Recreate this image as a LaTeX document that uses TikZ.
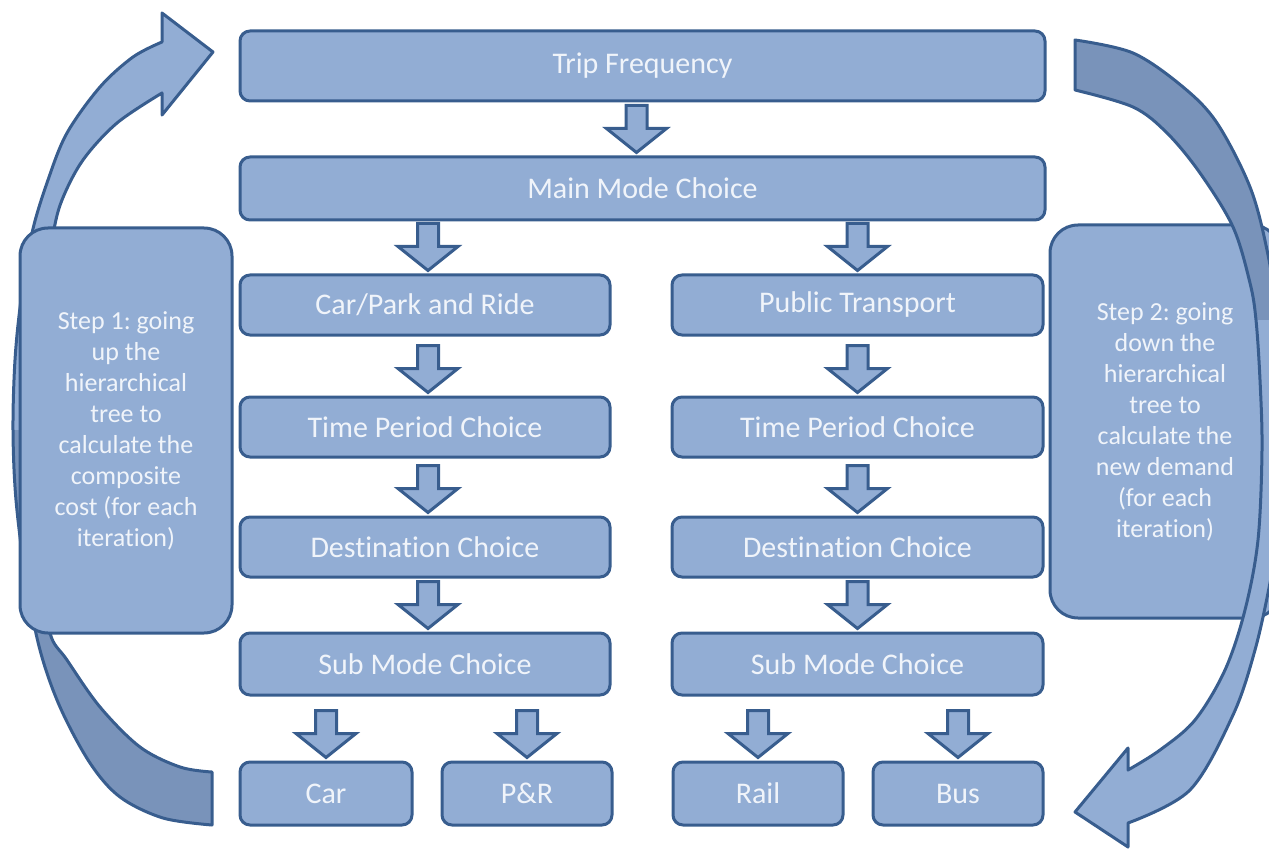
\documentclass[tikz,border=0pt]{standalone}
\usepackage{fontspec}
\setmainfont[Ligatures=NoCommon, Contextuals=NoAlternate]{Carlito}
\usetikzlibrary{calc}
\frenchspacing
\definecolor{boxfill}{RGB}{146,173,212}
\definecolor{bord}{RGB}{56,93,142}
\definecolor{darkpart}{RGB}{121,147,186}
\definecolor{txt}{RGB}{240,244,250}
\newcommand\larrowpath{%
  plot[smooth, tension=0.55] coordinates {(212,825) (163,818) (120,797) (90,763) (60,707) (40,650) (26,580) (16,500) (13,430) (15,360) (21,300) (32,233) (48,180) (67,133) (100,87) (133,57) (162,42)}
  -- (162,13) -- (213,52) -- (162,115)
  -- plot[smooth, tension=0.55] coordinates {(162,93) (117,123) (83,160) (62,200) (53,235) (46,290) (42,360) (40,430) (40,500) (43,570) (50,633) (67,660) (100,707) (140,747) (180,767) (212,772)}
  -- cycle}
\newcommand\rarrowpath{%
  plot[smooth, tension=0.55] coordinates {(1075,40) (1133,53) (1183,87) (1217,123) (1250,187) (1267,250) (1278,320) (1285,420) (1283,510) (1270,583) (1255,650) (1233,715) (1190,790) (1128,823)}
  -- (1128,847) -- (1075,812) -- (1128,748)
  -- plot[smooth, tension=0.55] coordinates {(1128,770) (1160,750) (1195,720) (1225,670) (1245,610) (1258,540) (1262,450) (1260,380) (1256,320) (1250,283) (1233,227) (1200,173) (1167,133) (1133,107) (1075,90)}
  -- cycle}
\newcommand\blk[3]{%
  \draw[barrow] let \p2=([xshift=#3pt]#2.north) in
    (\x2-10.5pt,\y2+50pt) -- (\x2+10.5pt,\y2+50pt) -- (\x2+10.5pt,\y2+27pt)
    -- (\x2+30pt,\y2+27pt) -- (\x2,\y2+3pt) -- (\x2-30pt,\y2+27pt)
    -- (\x2-10.5pt,\y2+27pt) -- cycle;}
\begin{document}
\begin{tikzpicture}[x=1pt,y=-1pt,
  box/.style={draw=bord, fill=boxfill, line width=3pt, rounded corners=10pt,
    text=txt, font=\fontsize{30}{36}\selectfont, inner sep=0pt},
  sidebox/.style={draw=bord, fill=boxfill, line width=3pt, rounded corners=28pt,
    text=txt, font=\fontsize{26}{31}\selectfont, align=center, inner sep=0pt},
  barrow/.style={draw=bord, fill=boxfill, line width=3pt, line join=miter},
  bandline/.style={draw=bord, line width=3pt, line join=round}]
\useasboundingbox (0,0) rectangle (1269,850);
\clip (0,0) rectangle (1269,850);
% left curved arrow (behind the left box)
\fill[boxfill] \larrowpath;
\begin{scope}
  \clip (0,430) rectangle (260,850);
  \fill[darkpart] \larrowpath;
\end{scope}
\path[bandline] \larrowpath;
% boxes
\node[box, minimum width=805pt, minimum height=70pt] (trip) at (642.5,66) {Trip Frequency};
\node[box, minimum width=805pt, minimum height=63pt] (main) at (642.5,188.5) {Main Mode Choice};
\node[box, minimum width=370pt, minimum height=60pt] (cp) at (425,305) {Car/Park and Ride};
\node[box, minimum width=371pt, minimum height=60pt] (pt) at (857.5,305) {Public Transport};
\node[box, minimum width=370pt, minimum height=60pt] (tpl) at (425,427) {Time Period Choice};
\node[box, minimum width=371pt, minimum height=60pt] (tpr) at (857.5,427) {Time Period Choice};
\node[box, minimum width=370pt, minimum height=60pt] (dcl) at (425,547) {Destination Choice};
\node[box, minimum width=371pt, minimum height=60pt] (dcr) at (857.5,547) {Destination Choice};
\node[box, minimum width=370pt, minimum height=62pt] (sml) at (425,664) {Sub Mode Choice};
\node[box, minimum width=371pt, minimum height=62pt] (smr) at (857.5,664) {Sub Mode Choice};
\node[box, minimum width=172pt, minimum height=63pt] (car) at (326,793.5) {Car};
\node[box, minimum width=170pt, minimum height=63pt] (pr) at (527,793.5) {P\&R};
\node[box, minimum width=170pt, minimum height=63pt] (rail) at (758,793.5) {Rail};
\node[box, minimum width=170pt, minimum height=63pt] (bus) at (958,793.5) {Bus};
\node[sidebox, minimum width=212pt, minimum height=405pt] (step1) at (126,430.5)
  {Step 1: going\\up the\\hierarchical\\tree to\\calculate the\\composite\\cost (for each\\iteration)};
\node[sidebox, minimum width=230pt, minimum height=393pt] (step2) at (1165,421.5)
  {Step 2: going\\down the\\hierarchical\\tree to\\calculate the\\new demand\\(for each\\iteration)};
% block arrows
\blk{trip}{main}{-6}
\blk{main}{cp}{3}
\blk{main}{pt}{0}
\blk{cp}{tpl}{3}
\blk{pt}{tpr}{0}
\blk{tpl}{dcl}{3}
\blk{tpr}{dcr}{0}
\blk{dcl}{sml}{3}
\blk{dcr}{smr}{0}
\blk{sml}{car}{0}
\blk{sml}{pr}{0}
\blk{smr}{rail}{0}
\blk{smr}{bus}{0}
% right curved arrow (in front of the right box)
\fill[boxfill] \rarrowpath;
\begin{scope}
  \clip (1000,0) rectangle (1300,320);
  \fill[darkpart] \rarrowpath;
\end{scope}
\path[bandline] \rarrowpath;
\end{tikzpicture}
\end{document}
